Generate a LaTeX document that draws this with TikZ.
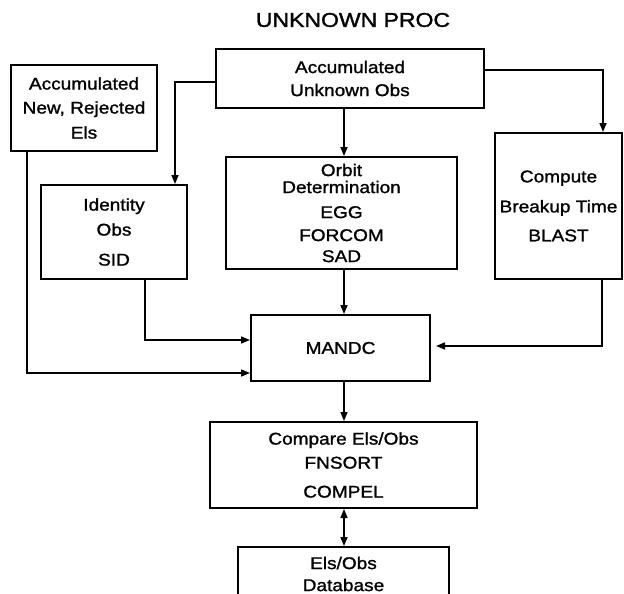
\documentclass[tikz,border=0pt]{standalone}
\usepackage{fontspec}
\setmainfont{Liberation Sans}[FakeStretch=1.12,FakeBold=1.3]
\newfontfamily\titlefont{Liberation Sans}[FakeStretch=1.15,FakeBold=1.5]
\usetikzlibrary{arrows.meta}
\begin{document}
\begin{tikzpicture}[x=1pt,y=-1pt,
  box/.style={draw, line width=2pt, align=center, inner sep=0pt,
              font=\fontsize{17}{24}\selectfont},
  arr/.style={line width=1.6pt, -{Triangle[length=9pt,width=7pt]}},
  dblarr/.style={line width=1.6pt, {Triangle[length=9pt,width=7pt]}-{Triangle[length=9pt,width=7pt]}}]
\useasboundingbox (0,0) rectangle (624,594);
\clip (0,0) rectangle (624,594);

\node[font=\titlefont\fontsize{20}{24}\selectfont] (title) at (353,20) {UNKNOWN PROC};

\node[box, minimum width=146pt, minimum height=86pt] (rej) at (84,108)
  {Accumulated\\New, Rejected\\[1pt]Els};
\node[box, minimum width=268pt, minimum height=59pt] (unk) at (350,78.5)
  {Accumulated\\[-1pt]Unknown Obs};
\node[box, minimum width=146pt, minimum height=94pt] (ident) at (114,232)
  {Identity\\[1pt]Obs\\[6pt]SID};
\node[box, minimum width=231pt, minimum height=112pt] (orbit) at (341.5,213)
  {Orbit\\[-7pt]Determination\\[1pt]EGG\\[-1pt]FORCOM\\[-3pt]SAD};
\node[box, minimum width=127pt, minimum height=146pt] (comp) at (558.5,206)
  {Compute\\[6pt]Breakup Time\\[5pt]BLAST};
\node[box, minimum width=179pt, minimum height=66pt] (mandc) at (340.5,348)
  {MANDC};
\node[box, minimum width=267pt, minimum height=86pt] (compare) at (343.5,465)
  {Compare Els/Obs\\FNSORT\\[5pt]COMPEL};
\node[box, minimum width=211pt, minimum height=54pt] (db) at (343.5,574)
  {Els/Obs\\[-2pt]Database};

\coordinate (a1) at (175,82);
\coordinate (a2) at (603,70);
\coordinate (cx) at (344,0);
\coordinate (b1) at (27,373);
\coordinate (b2) at (145,340);
\coordinate (b3) at (602,346);

\draw[arr] (unk.west |- a1) -- (a1) -- (a1 |- ident.north);
\draw[arr] (unk.east |- a2) -- (a2) -- (a2 |- comp.north);
\draw[arr] (unk.south -| cx) -- (orbit.north -| cx);
\draw[arr] (rej.south -| b1) -- (b1) -- (b1 -| mandc.west);
\draw[arr] (ident.south -| b2) -- (b2) -- (b2 -| mandc.west);
\draw[arr] (orbit.south -| cx) -- (mandc.north -| cx);
\draw[arr, shorten >=5pt] (comp.south -| b3) -- (b3) -- (b3 -| mandc.east);
\draw[arr] (mandc.south -| cx) -- (compare.north -| cx);
\draw[dblarr] (compare.south -| cx) -- (db.north -| cx);
\end{tikzpicture}
\end{document}
